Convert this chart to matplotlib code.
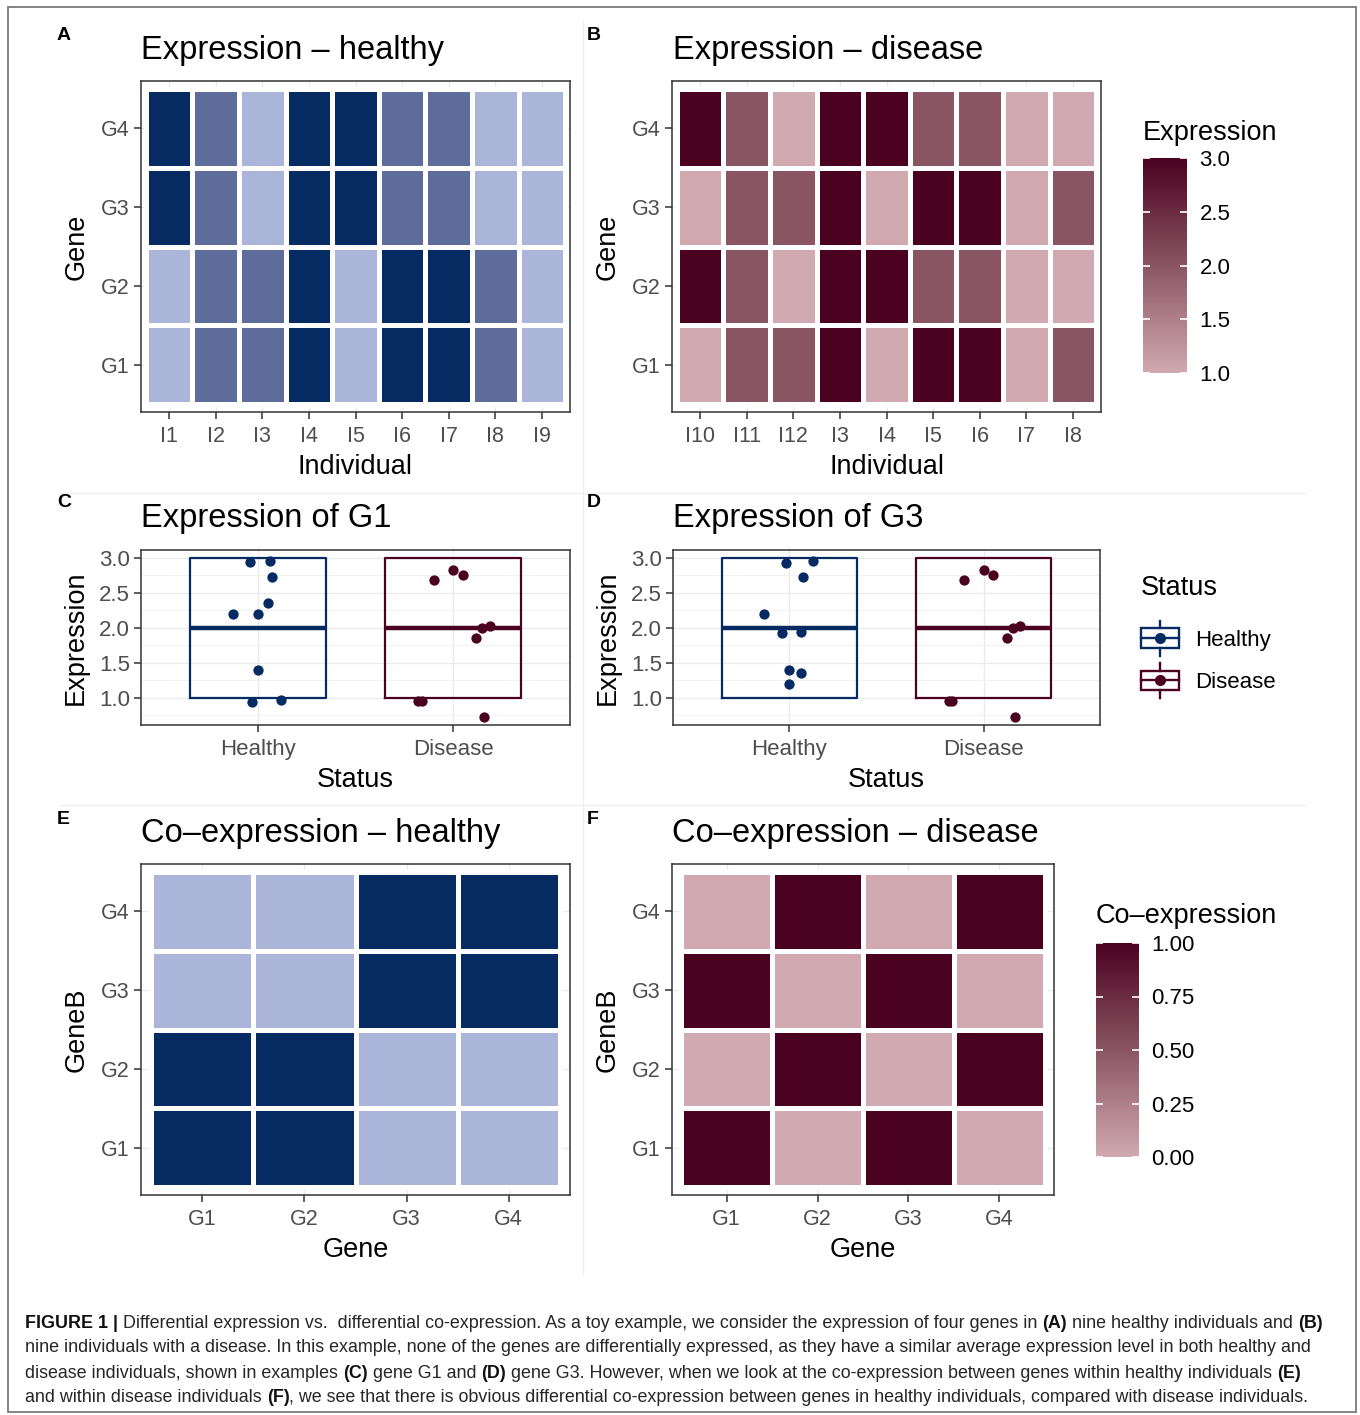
import numpy as np
import matplotlib
matplotlib.use("Agg")
import matplotlib.pyplot as plt
from matplotlib.colors import LinearSegmentedColormap
from matplotlib.patches import Rectangle
from matplotlib.lines import Line2D
from matplotlib.legend_handler import HandlerBase
from matplotlib.ticker import FormatStrFormatter

plt.rcParams['font.family'] = ['Liberation Sans', 'DejaVu Sans']

# Data
genes = ['G1', 'G2', 'G3', 'G4']
ind_healthy = ['I1', 'I2', 'I3', 'I4', 'I5', 'I6', 'I7', 'I8', 'I9']
ind_disease = ['I10', 'I11', 'I12', 'I3', 'I4', 'I5', 'I6', 'I7', 'I8']
status = ['Healthy', 'Disease']

healthy_g1 = [1, 2, 2, 3, 1, 3, 3, 2, 1]
healthy_g2 = [1, 2, 2, 3, 1, 3, 3, 2, 1]
healthy_g3 = [3, 2, 1, 3, 3, 2, 2, 1, 1]
healthy_g4 = [3, 2, 1, 3, 3, 2, 2, 1, 1]

disease_g1 = [1, 2, 2, 3, 1, 3, 3, 1, 2]
disease_g2 = [3, 2, 1, 3, 3, 2, 2, 1, 1]
disease_g3 = [1, 2, 2, 3, 1, 3, 3, 1, 2]
disease_g4 = [3, 2, 1, 3, 3, 2, 2, 1, 1]

# co-expression, rows = GeneB G1..G4, cols = Gene G1..G4
coexp_healthy = [[1, 1, 0, 0],
                 [1, 1, 0, 0],
                 [0, 0, 1, 1],
                 [0, 0, 1, 1]]
coexp_disease = [[1, 0, 1, 0],
                 [0, 1, 0, 1],
                 [1, 0, 1, 0],
                 [0, 1, 0, 1]]

# jittered points (horizontal offset, jittered value)
g1_healthy_dx = [-0.04, 0.06, 0.07, 0.05, -0.13, 0.0, 0.0, -0.03, 0.12]
g1_healthy_y = [2.94, 2.95, 2.73, 2.35, 2.20, 2.19, 1.39, 0.94, 0.97]
g1_disease_dx = [-0.10, 0.0, 0.05, 0.15, 0.19, 0.12, -0.18, -0.16, 0.16]
g1_disease_y = [2.68, 2.83, 2.75, 2.00, 2.02, 1.86, 0.95, 0.95, 0.73]
g3_healthy_dx = [-0.02, 0.12, 0.07, -0.13, -0.04, 0.06, 0.0, 0.06, 0.0]
g3_healthy_y = [2.93, 2.96, 2.73, 2.20, 1.93, 1.94, 1.39, 1.36, 1.19]
g3_disease_dx = [-0.10, 0.0, 0.05, 0.15, 0.19, 0.12, -0.18, -0.16, 0.16]
g3_disease_y = [2.68, 2.83, 2.75, 2.00, 2.02, 1.86, 0.95, 0.95, 0.73]

NAVY = '#062b62'
MAROON = '#4b0220'
cmap_h = LinearSegmentedColormap.from_list('h', ['#abb4d9', '#5e6c9c', NAVY])
cmap_d = LinearSegmentedColormap.from_list('d', ['#d1a9b0', '#8a5563', MAROON])

TITLE_FS = 23.5
LAB_FS = 19.5
TICK_FS = 15.5

W, H = 1360, 1415
fig = plt.figure(figsize=(W / 100, H / 100), dpi=100)


def box(l, t, r, b):
    return [l / W, 1 - b / H, (r - l) / W, (b - t) / H]


def ftext(x, y, s, **kw):
    return fig.text(x / W, 1 - y / H, s, **kw)


def style(ax):
    for sp in ax.spines.values():
        sp.set_color('#333333')
        sp.set_linewidth(1.1)
    ax.tick_params(length=5, width=1.1, color='#333333', labelcolor='#4d4d4d',
                   labelsize=TICK_FS, pad=3)
    ax.tick_params(axis='x', pad=5)
    ax.set_axisbelow(True)
    ax.grid(True, color='#ebebeb', lw=1.0)


def heatmap(ax, data, xlabels, ylabels, cmap, vmin, vmax, xlab, ylab):
    data = np.array(data)
    nx, ny = len(xlabels), len(ylabels)
    m = ax.pcolormesh(np.arange(nx + 1) - 0.5, np.arange(ny + 1) - 0.5, data,
                      cmap=cmap, vmin=vmin, vmax=vmax,
                      edgecolors='white', linewidth=2.2)
    ax.set_xlim(-0.6, nx - 0.4)
    ax.set_ylim(-0.6, ny - 0.4)
    ax.set_xticks(range(nx), xlabels)
    ax.set_yticks(range(ny), ylabels)
    style(ax)
    ax.set_xlabel(xlab, fontsize=LAB_FS, labelpad=5)
    ax.set_ylabel(ylab, fontsize=LAB_FS, labelpad=8)
    return m


def colorbar(m, rect, ticks, fmt, title, title_y):
    cax = fig.add_axes(box(*rect))
    cb = fig.colorbar(m, cax=cax, ticks=ticks)
    cb.outline.set_visible(False)
    cax.yaxis.set_major_formatter(FormatStrFormatter(fmt))
    cax.tick_params(direction='in', length=5, width=1.2, color='white',
                    left=True, right=True, labelleft=False, labelright=True,
                    labelsize=16, labelcolor='black', pad=9)
    ftext(rect[0], title_y, title, fontsize=LAB_FS, va='center')


def boxpanel(ax, vals_h, vals_d, dxh, yh, dxd, yd):
    for i, (vals, c) in enumerate([(vals_h, NAVY), (vals_d, MAROON)]):
        ax.boxplot([vals], positions=[i], widths=0.7, showfliers=False,
                   boxprops=dict(color=c, lw=1.6), whiskerprops=dict(color=c, lw=1.6),
                   capprops=dict(color=c, lw=0), medianprops=dict(color=c, lw=3.2))
    ax.scatter(np.array(dxh) + 0, yh, s=55, color=NAVY, zorder=5, lw=0)
    ax.scatter(np.array(dxd) + 1, yd, s=55, color=MAROON, zorder=5, lw=0)
    ax.set_xlim(-0.6, 1.6)
    ax.set_ylim(0.61, 3.11)
    ax.set_xticks([0, 1], status)
    ax.set_yticks([1.0, 1.5, 2.0, 2.5, 3.0])
    ax.set_yticks(np.arange(0.75, 3.1, 0.5), minor=True)
    ax.yaxis.set_major_formatter(FormatStrFormatter('%.1f'))
    style(ax)
    ax.tick_params(axis='y', labelsize=16)
    ax.tick_params(axis='x', labelsize=16)
    ax.tick_params(which='minor', length=0)
    ax.grid(True, which='minor', color='#f2f2f2', lw=0.8)
    ax.set_xlabel('Status', fontsize=LAB_FS, labelpad=5)
    ax.set_ylabel('Expression', fontsize=LAB_FS, labelpad=7)


# A
axA = fig.add_axes(box(141, 81, 570, 412))
heatmap(axA, [healthy_g1, healthy_g2, healthy_g3, healthy_g4], ind_healthy, genes,
        cmap_h, 1, 3, 'Individual', 'Gene')
# B
axB = fig.add_axes(box(672, 81, 1101, 412))
mB = heatmap(axB, [disease_g1, disease_g2, disease_g3, disease_g4], ind_disease, genes,
             cmap_d, 1, 3, 'Individual', 'Gene')
colorbar(mB, (1143, 158, 1187, 373), [1.0, 1.5, 2.0, 2.5, 3.0], '%.1f', 'Expression', 133)

# C
axC = fig.add_axes(box(141, 550, 570, 725))
boxpanel(axC, healthy_g1, disease_g1, g1_healthy_dx, g1_healthy_y, g1_disease_dx, g1_disease_y)
# D
axD = fig.add_axes(box(673, 550, 1100, 725))
boxpanel(axD, healthy_g3, disease_g3, g3_healthy_dx, g3_healthy_y, g3_disease_dx, g3_disease_y)


class BoxKey(HandlerBase):
    def create_artists(self, legend, orig, xd, yd, w, h, fs, trans):
        c = orig.get_color()
        x0, y0 = -xd, -yd
        cx, cy = x0 + w / 2, y0 + h / 2
        bh = h * 0.8
        wl = h * 0.32
        return [
            Rectangle((x0, cy - bh / 2), w, bh, fill=False, ec=c, lw=1.7, transform=trans),
            Line2D([cx, cx], [cy - bh / 2 - wl, cy - bh / 2], color=c, lw=1.7, transform=trans),
            Line2D([cx, cx], [cy + bh / 2, cy + bh / 2 + wl], color=c, lw=1.7, transform=trans),
            Line2D([x0, x0 + w], [cy, cy], color=c, lw=1.7, transform=trans),
            Line2D([cx], [cy], marker='o', ms=8, mew=0, color=c, transform=trans),
        ]


handles = [Line2D([], [], color=NAVY), Line2D([], [], color=MAROON)]
leg = axD.legend(handles, status, handler_map={Line2D: BoxKey()},
                 loc='upper left', bbox_to_anchor=(1141 / W, 1 - 575 / H),
                 bbox_transform=fig.transFigure, frameon=False, title='Status',
                 alignment='left', fontsize=16, title_fontsize=LAB_FS,
                 handlelength=1.7, handleheight=1.3, labelspacing=0.8,
                 handletextpad=0.75, borderaxespad=0, borderpad=0)
leg._legend_box.sep = 18

# E
axE = fig.add_axes(box(141, 864, 570, 1195))
heatmap(axE, coexp_healthy, genes, genes, cmap_h, 0, 1, 'Gene', 'GeneB')
# F
axF = fig.add_axes(box(672, 864, 1054, 1195))
mF = heatmap(axF, coexp_disease, genes, genes, cmap_d, 0, 1, 'Gene', 'GeneB')
colorbar(mF, (1096, 943, 1139, 1157), [0, 0.25, 0.5, 0.75, 1.0], '%.2f', 'Co\u2013expression', 916)

# titles and panel letters
titles = [(141, 50, 'Expression \u2013 healthy'), (673, 50, 'Expression \u2013 disease'),
          (141, 519, 'Expression of G1'), (673, 519, 'Expression of G3'),
          (141, 833, 'Co\u2013expression \u2013 healthy'), (672, 833, 'Co\u2013expression \u2013 disease')]
for x, y, s in titles:
    ftext(x, y, s, fontsize=TITLE_FS, va='center')
for x, y, s in [(64, 35, 'A'), (594, 35, 'B'), (64, 503, 'C'), (594, 503, 'D'),
                (63, 820, 'E'), (593, 820, 'F')]:
    ftext(x, y, s, fontsize=14, weight='bold', ha='center', va='center')

# faint panel separators and outer frame
sep = '#efefef'
fig.add_artist(Line2D([60 / W, 1305 / W], [1 - 493 / H] * 2, color=sep, lw=1))
fig.add_artist(Line2D([60 / W, 1305 / W], [1 - 805 / H] * 2, color=sep, lw=1))
fig.add_artist(Line2D([583 / W] * 2, [1 - 20 / H, 1 - 1275 / H], color=sep, lw=1))
fig.add_artist(Rectangle((8 / W, 1 - 1412 / H), 1348 / W, 1405 / H, fill=False,
                         ec='#7a7a7a', lw=1.3, transform=fig.transFigure))

# caption
cap_lines = [
    [("FIGURE 1 |", True), (" Differential expression vs.  differential co-expression. As a toy example, "
     "we consider the expression of four genes in ", False), ("(A)", True),
     (" nine healthy individuals and ", False), ("(B)", True)],
    [("nine individuals with a disease. In this example, none of the genes are differentially expressed, "
      "as they have a similar average expression level in both healthy and", False)],
    [("disease individuals, shown in examples ", False), ("(C)", True), (" gene G1 and ", False),
     ("(D)", True), (" gene G3. However, when we look at the co-expression between genes within "
     "healthy individuals ", False), ("(E)", True)],
    [("and within disease individuals ", False), ("(F)", True),
     (", we see that there is obvious differential co-expression between genes in healthy "
      "individuals, compared with disease individuals.", False)],
]
renderer = fig.canvas.get_renderer()
cap_fs = 12.9


def twidth(s, bold):
    t = fig.text(0, 0, s, fontsize=cap_fs, weight='bold' if bold else 'normal')
    w = t.get_window_extent(renderer).width
    t.remove()
    return w


space_w = twidth('a a', False) - twidth('aa', False)
for i, parts in enumerate(cap_lines):
    y = 1323 + i * 25
    x = 25
    for seg, bold in parts:
        lead = len(seg) - len(seg.lstrip(' '))
        trail = len(seg) - len(seg.rstrip(' '))
        x += lead * space_w
        core = seg.strip(' ')
        t = ftext(x, y, core, fontsize=cap_fs, va='center',
                  weight='bold' if bold else 'normal',
                  color='#111111' if bold else '#262626')
        x += t.get_window_extent(renderer).width + trail * space_w

fig.savefig('out.png', dpi=100)
